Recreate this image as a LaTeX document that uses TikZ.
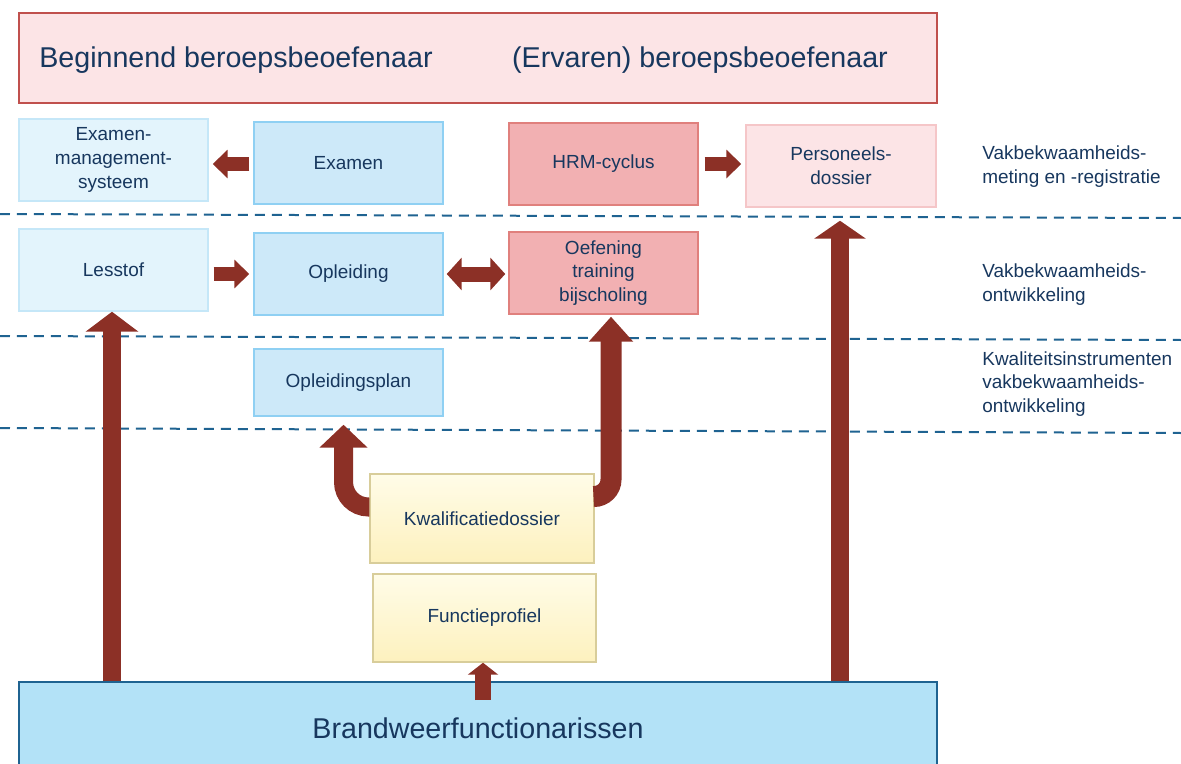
\documentclass[tikz,border=0pt]{standalone}
\usepackage{fontspec}
\setmainfont{Liberation Sans}
\usepackage{tikz}
\usetikzlibrary{arrows.meta}
\definecolor{txt}{HTML}{17375E}
\definecolor{arrowred}{HTML}{8C3026}
\definecolor{lineblue}{HTML}{1F6391}
\tikzset{every picture/.style={x=0.02cm, y=-0.02cm}}
\tikzset{box/.style={draw, rectangle, line width=0.3mm, minimum width=3.78cm, minimum height=1.64cm, text=txt, align=center, font=\fontsize{10.8}{13.6}\selectfont}}
\tikzset{palebox/.style={box, fill={rgb,255:red,227;green,244;blue,252}, draw={rgb,255:red,197;green,231;blue,248}}}
\tikzset{bluebox/.style={box, fill={rgb,255:red,205;green,233;blue,249}, draw={rgb,255:red,143;green,208;blue,243}}}
\tikzset{redbox/.style={box, fill={rgb,255:red,242;green,176;blue,178}, draw={rgb,255:red,224;green,128;blue,125}}}
\tikzset{rosebox/.style={box, fill={rgb,255:red,252;green,228;blue,230}, draw={rgb,255:red,245;green,198;blue,200}}}
\tikzset{yellowbox/.style={box, top color={rgb,255:red,255;green,252;blue,232}, bottom color={rgb,255:red,253;green,241;blue,190}, draw={rgb,255:red,216;green,205;blue,154}}}
\tikzset{label/.style={text=txt, align=left, anchor=west, inner sep=0pt, font=\fontsize{10.8}{13.6}\selectfont}}
\tikzset{bigtext/.style={text=txt, inner sep=0pt, font=\fontsize{16.3}{19}\selectfont}}
\tikzset{level/.style={draw=lineblue, line width=0.4mm, dash pattern=on 2mm off 1.4mm}}
\tikzset{flow/.style={draw=arrowred, line width=#1}}

\begin{document}
\begin{tikzpicture}
\useasboundingbox (0,0) rectangle (1181,764);
% level lines
\draw[level] (0,214) -- (1181,218);
\draw[level] (0,336) -- (1181,340);
\draw[level] (0,428) -- (1181,433);
% header
\node[draw={rgb,255:red,192;green,80;blue,77}, fill={rgb,255:red,252;green,228;blue,230}, line width=0.3mm, minimum width=18.36cm, minimum height=1.8cm] (top) at (478,58) {};
\node[bigtext] (begin) at (236,60) {Beginnend beroepsbeoefenaar};
\node[bigtext] (ervaren) at (700,60) {(Ervaren) beroepsbeoefenaar};
% boxes
\node[palebox] (ems) at (113.5,160) {Examen-\\management-\\systeem};
\node[bluebox] (examen) at (348.5,163) {Examen};
\node[redbox] (hrm) at (603.5,164) {HRM-cyclus};
\node[rosebox, minimum width=3.8cm] (pers) at (841,166) {Personeels-\\dossier};
\node[palebox] (lesstof) at (113.5,270) {Lesstof};
\node[bluebox] (opleiding) at (348.5,274) {Opleiding};
\node[redbox] (oefening) at (603.5,273) {Oefening\\training\\bijscholing};
\node[bluebox, minimum height=1.34cm] (plan) at (348.5,382.5) {Opleidingsplan};
\node[yellowbox, minimum width=4.48cm, minimum height=1.78cm] (kwal) at (482,518.5) {Kwalificatiedossier};
\node[yellowbox, minimum width=4.46cm, minimum height=1.76cm] (func) at (484.5,618) {Functieprofiel};
\node[draw=lineblue, fill={rgb,255:red,179;green,226;blue,247}, line width=0.3mm, minimum width=18.36cm, minimum height=1.92cm] (brand) at (478,730) {};
\node[bigtext] (brandtext) at (478,728) {Brandweerfunctionarissen};
% side labels
\node[label] (meting) at (982,167) {Vakbekwaamheids-\\meting en -registratie};
\node[label] (ontw) at (982,285) {Vakbekwaamheids-\\ontwikkeling};
\node[label] (kwin) at (982,384) {Kwaliteitsinstrumenten\\vakbekwaamheids-\\ontwikkeling};
\coordinate (fstart) at (483,700);
% arrows
\draw[flow=2.8mm, -{Triangle[length=3mm, width=5.6mm]}, shorten >=0.8mm, shorten <=0.8mm] (examen.west |- 0,164) -- (ems.east |- 0,164);
\draw[flow=2.8mm, -{Triangle[length=3mm, width=5.6mm]}, shorten >=0.8mm, shorten <=1.2mm] (hrm.east |- 0,164) -- (pers.west |- 0,164);
\draw[flow=2.8mm, -{Triangle[length=3mm, width=5.6mm]}, shorten >=0.8mm, shorten <=1mm] (lesstof.east |- 0,274) -- (opleiding.west |- 0,274);
\draw[flow=3mm, {Triangle[length=3mm, width=6.4mm]}-{Triangle[length=3mm, width=6.4mm]}, shorten >=0.6mm, shorten <=0.6mm] (opleiding.east |- 0,274) -- (oefening.west |- 0,274);
\draw[flow=3.6mm, -{Triangle[length=4mm, width=10.4mm]}] (brand.north -| 112,0) -- (lesstof.south -| 112,0);
\draw[flow=3.6mm, -{Triangle[length=3.6mm, width=10.2mm]}, shorten >=2.6mm] (brand.north -| 840,0) -- (pers.south -| 840,0);
\draw[flow=3.2mm, -{Triangle[length=2.4mm, width=6mm]}] (fstart) -- (func.south -| fstart);
\draw[flow=3.8mm, -{Triangle[length=4.6mm, width=9.4mm]}, rounded corners=5mm, shorten >=1.6mm] ([yshift=2.3mm]kwal.west) -| ([xshift=-1mm]plan.south);
\draw[flow=4.2mm, -{Triangle[length=5mm, width=8.6mm]}, rounded corners=3.4mm, shorten >=0.4mm] ([yshift=4.4mm]kwal.east) -| ([xshift=1.5mm]oefening.south);
\end{tikzpicture}
\end{document}
